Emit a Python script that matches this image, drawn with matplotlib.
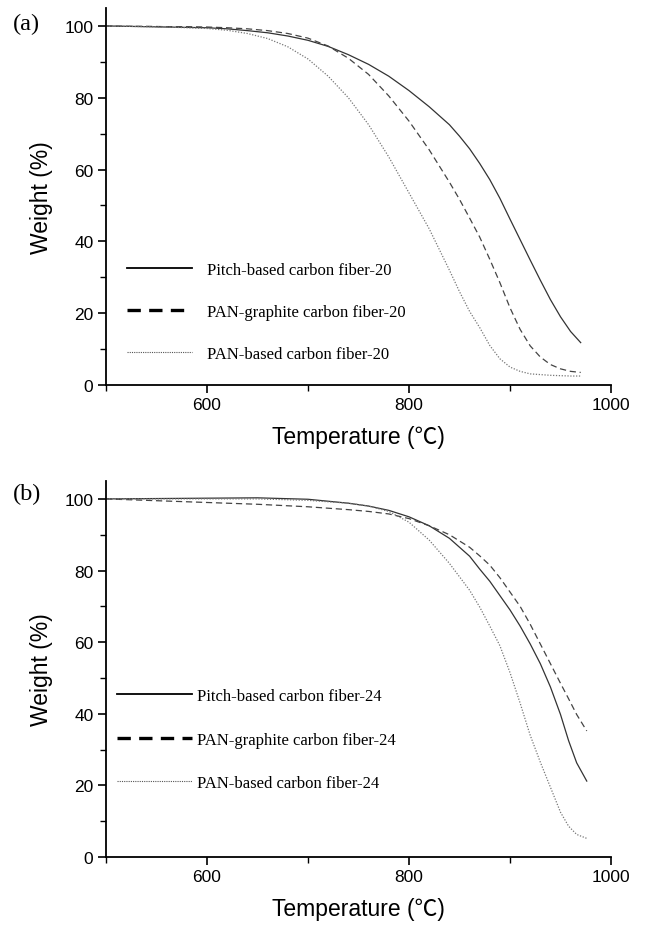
import numpy as np
import matplotlib
matplotlib.use("Agg")
import matplotlib.pyplot as plt
from matplotlib.lines import Line2D

plt.rcParams["font.family"] = ["Liberation Sans", "Noto Sans CJK SC", "DejaVu Sans"]

# panel (a): fibers 20
temp_a = [500, 520, 540, 560, 580, 600, 620, 640, 660, 680, 700, 720, 740, 760, 780,
          800, 820, 840, 850, 860, 870, 880, 890, 900, 910, 920, 930, 940, 950, 960, 970]
pitch_20 = [100, 99.9, 99.8, 99.7, 99.6, 99.5, 99.2, 98.7, 98.1, 97.2, 96.0, 94.3, 92.0, 89.3, 86.0,
            82.0, 77.5, 72.5, 69.3, 65.8, 61.7, 57.2, 52.0, 46.2, 40.5, 34.8, 29.2, 23.8, 19.0, 14.9, 11.8]
graphite_20 = [100, 99.9, 99.9, 99.8, 99.8, 99.7, 99.5, 99.2, 98.7, 97.9, 96.6, 94.4, 91.0, 86.5, 80.5,
               73.5, 65.5, 56.5, 51.7, 46.5, 41.2, 35.0, 28.5, 21.5, 15.5, 10.9, 7.8, 5.7, 4.5, 3.8, 3.5]
panbased_20 = [100, 99.9, 99.8, 99.7, 99.5, 99.3, 98.8, 97.9, 96.5, 94.2, 90.8, 86.0, 80.0, 72.5, 63.5,
               53.5, 43.5, 32.0, 26.0, 20.5, 16.0, 11.0, 7.3, 5.0, 3.8, 3.1, 2.9, 2.7, 2.6, 2.5, 2.5]

# panel (b): fibers 24
temp_b = [500, 550, 600, 650, 700, 740, 760, 780, 800, 820, 840, 860, 870, 880, 890,
          900, 910, 920, 930, 940, 950, 958, 966, 976]
pitch_24 = [100, 100.1, 100.2, 100.3, 99.9, 98.8, 98.0, 96.8, 95.0, 92.5, 89.0, 84.0, 80.4, 77.0, 73.0,
            69.0, 64.5, 59.5, 54.0, 47.5, 39.8, 32.5, 26.3, 21.2]
graphite_24 = [100, 99.5, 99.0, 98.5, 97.8, 97.0, 96.5, 95.8, 94.5, 92.5, 90.0, 86.5, 84.1, 81.5, 78.0,
               74.0, 70.0, 65.0, 59.5, 54.0, 48.5, 44.2, 39.8, 35.2]
panbased_24 = [100, 100, 100, 100, 99.6, 98.8, 98.0, 96.5, 93.5, 88.5, 82.0, 74.5, 69.8, 64.5, 59.0,
               51.5, 43.0, 34.0, 26.5, 19.5, 12.5, 8.6, 6.3, 5.2]

labels_a = ["Pitch-based carbon fiber-20", "PAN-graphite carbon fiber-20", "PAN-based carbon fiber-20"]
labels_b = ["Pitch-based carbon fiber-24", "PAN-graphite carbon fiber-24", "PAN-based carbon fiber-24"]

curve_styles = [
    dict(color="#333333", linewidth=0.9, linestyle="-"),
    dict(color="#444444", linewidth=0.9, linestyle=(0, (5, 3))),
    dict(color="#777777", linewidth=0.9, linestyle=(0, (1, 1.3))),
]
legend_styles = [
    dict(color="black", linewidth=1.3, linestyle="-"),
    dict(color="black", linewidth=2.4, linestyle=(0, (4, 2.5))),
    dict(color="#555555", linewidth=0.8, linestyle=(0, (1, 1))),
]

fig = plt.figure(figsize=(6.5, 9.29), dpi=100)
ax_a = fig.add_axes([106 / 650, 1 - 386 / 929, 505 / 650, 377 / 929])
ax_b = fig.add_axes([106 / 650, 1 - 858 / 929, 505 / 650, 376 / 929])


def draw_panel(ax, temp, series, labels, leg_anchor, handlelength, textpad, spacing):
    for y, st in zip(series, curve_styles):
        ax.plot(temp, y, **st)
    ax.set_xlim(500, 1000)
    ax.set_ylim(0, 105)
    ax.set_xticks([600, 800, 1000])
    ax.set_xticks([500, 700, 900], minor=True)
    ax.set_yticks([0, 20, 40, 60, 80, 100])
    ax.set_yticks([10, 30, 50, 70, 90], minor=True)
    for side in ["top", "right"]:
        ax.spines[side].set_visible(False)
    for side in ["left", "bottom"]:
        ax.spines[side].set_linewidth(1.3)
    ax.tick_params(which="major", direction="out", length=6, width=1.2, labelsize=12.5, pad=3)
    ax.tick_params(which="minor", direction="out", length=4, width=1.0)
    ax.set_xlabel("Temperature (\u2103)", fontsize=16.5, labelpad=9)
    ax.set_ylabel("Weight (%)", fontsize=16.5, labelpad=8)
    handles = [Line2D([], [], **st) for st in legend_styles]
    ax.legend(handles, labels, loc="upper left", bbox_to_anchor=leg_anchor,
              frameon=False, borderpad=0, borderaxespad=0,
              handlelength=handlelength, handletextpad=textpad, labelspacing=spacing,
              prop={"family": "Liberation Serif", "size": 12})


draw_panel(ax_a, temp_a, [pitch_20, graphite_20, panbased_20], labels_a,
           (0.042, 0.326), 3.9, 0.9, 1.56)
draw_panel(ax_b, temp_b, [pitch_24, graphite_24, panbased_24], labels_b,
           (0.022, 0.449), 4.5, 0.3, 1.65)

fig.text(13 / 650, 1 - 24 / 929, "(a)", fontsize=17.5, family="Liberation Serif", va="center")
fig.text(13 / 650, 1 - 494 / 929, "(b)", fontsize=17.5, family="Liberation Serif", va="center")

fig.savefig("out.png", dpi=100)
